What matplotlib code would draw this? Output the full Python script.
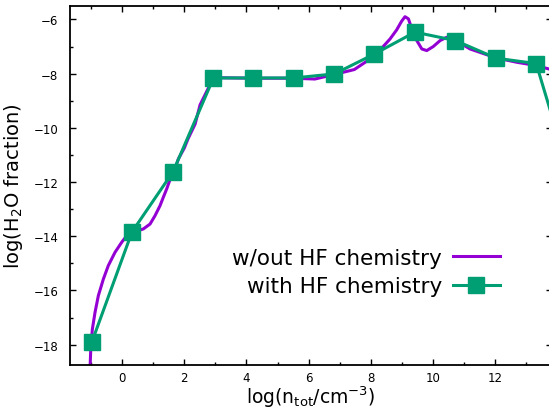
import matplotlib
matplotlib.use("Agg")
import matplotlib.pyplot as plt
from matplotlib.ticker import MultipleLocator

plt.rcParams['font.family'] = ['DejaVu Sans']
plt.rcParams['mathtext.default'] = 'regular'

# with HF chemistry (green squares)
x_hf = [-0.97, 0.32, 1.64, 2.94, 4.22, 5.53, 6.83, 8.11, 9.42, 10.72, 12.03, 13.32, 14.62]
y_hf = [-17.9, -13.84, -11.62, -8.16, -8.16, -8.16, -8.01, -7.28, -6.47, -6.78, -7.43, -7.63, -12.6]

# w/out HF chemistry (purple, smooth curve)
x_no = [-1.03, -1.006, -0.955, -0.868, -0.762, -0.601, -0.441, -0.225, -0.01, 0.151, 0.32,
        0.524, 0.685, 0.90, 1.061, 1.222, 1.328, 1.437, 1.543, 1.65, 1.704, 1.81,
        2.0, 2.12, 2.35, 2.51, 2.73, 2.94, 4.22, 5.53, 6.20, 6.83, 7.47, 7.90, 8.19,
        8.40, 8.62, 8.83, 8.99, 9.10, 9.21, 9.32, 9.48, 9.64, 9.80, 10.01, 10.23, 10.44,
        10.71, 11.19, 12.03, 12.69, 13.31, 13.73, 13.95]
y_no = [-18.9, -18.16, -17.43, -16.80, -16.19, -15.58, -15.08, -14.59, -14.22, -13.98, -13.82,
        -13.79, -13.73, -13.55, -13.24, -12.87, -12.56, -12.25, -11.91, -11.62, -11.52, -11.15,
        -10.75, -10.41, -9.86, -9.15, -8.64, -8.15, -8.17, -8.17, -8.2, -8.03, -7.85, -7.52,
        -7.27, -7.00, -6.72, -6.39, -6.07, -5.90, -5.98, -6.35, -6.78, -7.09, -7.15, -7.00,
        -6.78, -6.66, -6.76, -7.09, -7.42, -7.58, -7.70, -7.83, -7.9]

fig = plt.figure(figsize=(5.49, 4.10), dpi=100)
ax = fig.add_axes([0.1266, 0.1073, 0.879, 0.876])

ax.plot(x_no, y_no, color='#9400D3', lw=2.2, label='w/out HF chemistry')
ax.plot(x_hf, y_hf, color='#009E73', lw=2.2, marker='s', ms=11.5,
        label='with HF chemistry')

ax.set_xlim(-1.69, 13.83)
ax.set_ylim(-18.75, -5.5)
ax.xaxis.set_major_locator(MultipleLocator(2))
ax.xaxis.set_minor_locator(MultipleLocator(1))
ax.yaxis.set_major_locator(MultipleLocator(2))
ax.yaxis.set_minor_locator(MultipleLocator(1))
ax.tick_params(which='both', direction='in', top=True, right=True, labelsize=8.5)
ax.tick_params(which='major', length=4.5, width=1)
ax.tick_params(which='minor', length=2.2, width=1)
ax.tick_params(axis='y', pad=8)
ax.tick_params(axis='x', pad=4)
for s in ax.spines.values():
    s.set_linewidth(1.3)

ax.set_xlabel('log(n$_{tot}$/cm$^{-3}$)', fontsize=13.5, labelpad=0)
ax.set_ylabel('log(H$_2$O fraction)', fontsize=14, labelpad=6)

leg = ax.legend(loc='center right', bbox_to_anchor=(500 / 549, 1 - 273 / 410),
                bbox_transform=fig.transFigure, frameon=False, markerfirst=False,
                fontsize=15.5, handlelength=2.2, handletextpad=0.5,
                labelspacing=0.4, borderaxespad=0, borderpad=0)

fig.savefig('out.png', dpi=100)
